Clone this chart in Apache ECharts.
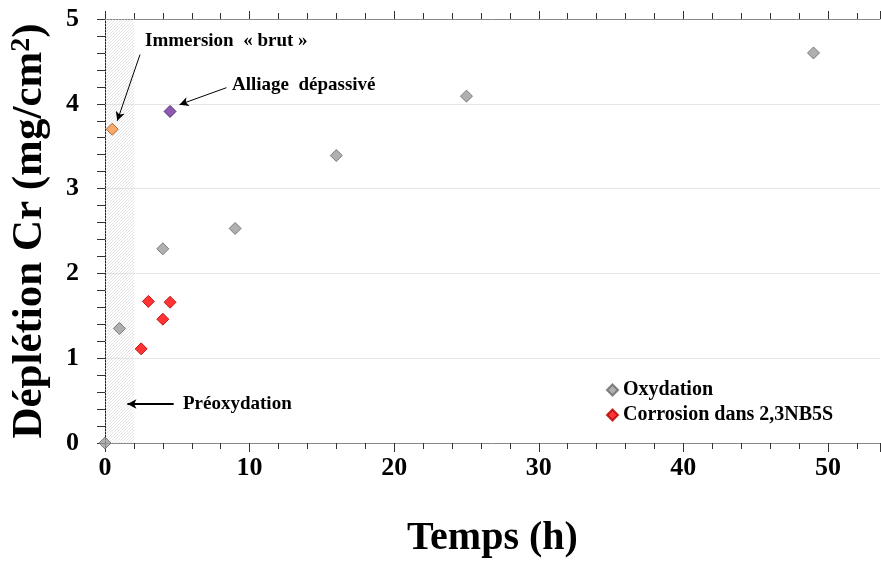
<!DOCTYPE html>
<html><head><meta charset="utf-8">
<script src="https://cdn.jsdelivr.net/npm/echarts@6/dist/echarts.min.js"></script>
<style>html,body{margin:0;padding:0;background:#fff}#c{width:881px;height:563px}</style>
</head><body><div id="c"></div>
<script>
// Data
const oxTime = [0, 1, 4, 9, 16, 25, 49];
const oxDepl = [0, 1.35, 2.29, 2.53, 3.39, 4.09, 4.60];
const corTime = [2.5, 3, 4, 4.5];
const corDepl = [1.11, 1.67, 1.46, 1.66];
const brutPt = [0.5, 3.70];
const depassPt = [4.5, 3.91];
const preoxRange = [0, 2];
const xTicks = [0, 10, 20, 30, 40, 50];
const yTicks = [0, 1, 2, 3, 4, 5];

const FONT = '"Liberation Serif", "Times New Roman", serif';

const pc = document.createElement('canvas');
pc.width = 3; pc.height = 3;
const g = pc.getContext('2d');
g.strokeStyle = '#d2d2d2'; g.lineWidth = 0.6;
g.beginPath();
g.moveTo(0, 3); g.lineTo(3, 0);
g.moveTo(-1, 1); g.lineTo(1, -1);
g.moveTo(2, 4); g.lineTo(4, 2);
g.stroke();

const chart = echarts.init(document.getElementById('c'), null, {renderer: 'canvas'});
const xMax = 53.6;
const tickFmt = v => (xTicks.indexOf(v) >= 0 ? String(v) : '');

chart.setOption({
  animation: false,
  backgroundColor: '#fff',
  grid: {left: 105, right: 1, top: 19, bottom: 120, containLabel: false, outerBoundsMode: 'none'},
  legend: {
    data: ['Oxydation', 'Corrosion dans 2,3NB5S'],
    orient: 'vertical', left: 601, top: 375, itemGap: 5,
    icon: 'diamond', itemWidth: 11, itemHeight: 11,
    textStyle: {fontFamily: FONT, fontWeight: 'bold', fontSize: 20, color: '#000'}
  },
  xAxis: [{
    type: 'value', min: 0, max: xMax, interval: 10, position: 'bottom',
    name: 'Temps (h)', nameLocation: 'middle', nameGap: 76,
    nameTextStyle: {fontFamily: FONT, fontWeight: 'bold', fontSize: 40, color: '#000'},
    axisLine: {show: true, onZero: false, lineStyle: {color: '#888', width: 1}},
    axisTick: {show: true, inside: false, length: 9, lineStyle: {color: '#333'}},
    minorTick: {show: true, splitNumber: 5, length: 6, lineStyle: {color: '#333'}},
    axisLabel: {formatter: tickFmt, showMaxLabel: false, margin: 12, fontFamily: FONT, fontWeight: 'bold', fontSize: 26, color: '#000'},
    splitLine: {show: false}
  }, {
    type: 'value', min: 0, max: xMax, interval: 10, position: 'top',
    axisLine: {show: true, onZero: false, lineStyle: {color: '#888', width: 1}},
    axisTick: {show: true, inside: false, length: 8, lineStyle: {color: '#333'}},
    minorTick: {show: true, splitNumber: 5, length: 6, lineStyle: {color: '#333'}},
    axisLabel: {show: false},
    splitLine: {show: false}
  }],
  yAxis: {
    type: 'value', min: yTicks[0], max: yTicks[yTicks.length - 1], interval: 1,
    name: 'Déplétion Cr (mg/cm{sup|2})', nameLocation: 'middle', nameGap: 54,
    nameTextStyle: {fontFamily: FONT, fontWeight: 'bold', fontSize: 43, color: '#000',
      rich: {sup: {fontFamily: FONT, fontWeight: 'bold', fontSize: 28, color: '#000', verticalAlign: 'top', padding: [0, 0, 14, 0]}}},
    axisLine: {show: true, onZero: false, lineStyle: {color: '#222', width: 1}},
    axisTick: {show: true, inside: false, length: 8, lineStyle: {color: '#333'}},
    minorTick: {show: true, splitNumber: 5, length: 8, lineStyle: {color: '#333'}},
    axisLabel: {margin: 26, fontFamily: FONT, fontWeight: 'bold', fontSize: 26, color: '#000'},
    splitLine: {show: true, lineStyle: {color: '#e6e6e6', width: 1}}
  },
  series: [{
    name: 'Oxydation', type: 'scatter', symbol: 'diamond', symbolSize: 12,
    itemStyle: {color: '#9c9c9c', borderColor: '#666', borderWidth: 1},
    data: oxTime.map((t, i) => [t, oxDepl[i]]),
    z: 5,
    markArea: {
      silent: true,
      itemStyle: {color: {image: pc, repeat: 'repeat'}},
      data: [[{xAxis: preoxRange[0]}, {xAxis: preoxRange[1]}]]
    }
  }, {
    name: 'Corrosion dans 2,3NB5S', type: 'scatter', symbol: 'diamond', symbolSize: 12,
    itemStyle: {color: '#ff0000', borderColor: '#b00000', borderWidth: 1},
    data: corTime.map((t, i) => [t, corDepl[i]]),
    z: 5
  }, {
    name: 'brut', type: 'scatter', symbol: 'diamond', symbolSize: 12,
    itemStyle: {color: '#f79646', borderColor: '#a0501a', borderWidth: 1},
    data: [brutPt], z: 5
  }, {
    name: 'depass', type: 'scatter', symbol: 'diamond', symbolSize: 12,
    itemStyle: {color: '#7030a0', borderColor: '#3a1858', borderWidth: 1},
    data: [depassPt], z: 5,
    markLine: {
      silent: true, symbol: ['none', 'arrow'], symbolSize: [7, 9],
      label: {show: false},
      lineStyle: {color: '#000', type: 'solid', width: 1},
      data: [
        [{coord: [2.42, 4.58]}, {coord: [0.85, 3.80]}],
        [{coord: [8.4, 4.19]}, {coord: [5.15, 3.99]}],
        [{coord: [4.75, 0.46], lineStyle: {width: 2}}, {coord: [1.55, 0.46]}]
      ]
    }
  }],
  graphic: [
    {type: 'text', left: 145, top: 32, style: {text: 'Immersion  « brut »', font: 'bold 19px ' + FONT, fill: '#000'}},
    {type: 'text', left: 232, top: 76, style: {text: 'Alliage  dépassivé', font: 'bold 19px ' + FONT, fill: '#000'}},
    {type: 'text', left: 183, top: 395, style: {text: 'Préoxydation', font: 'bold 19px ' + FONT, fill: '#000'}}
  ]
});
</script></body></html>
